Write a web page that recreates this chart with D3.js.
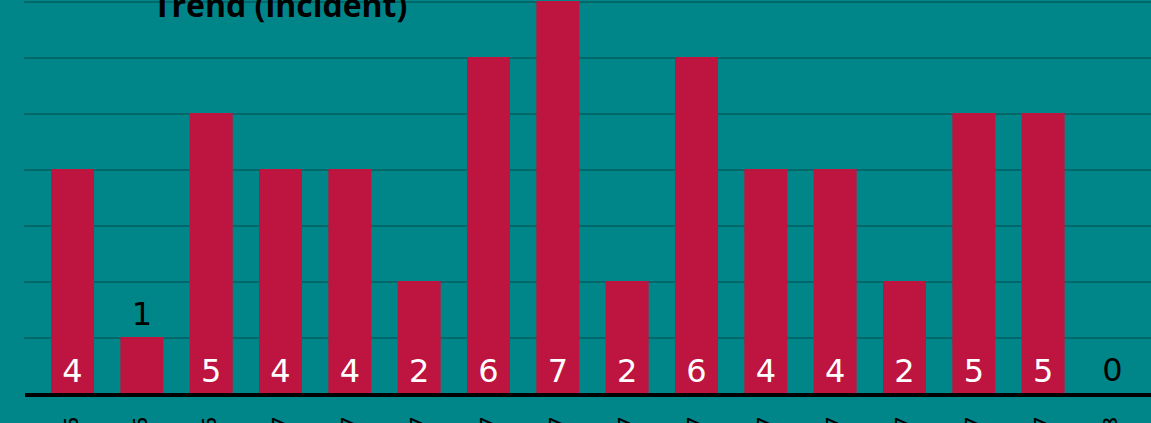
<!DOCTYPE html>
<html>
<head>
<meta charset="utf-8">
<script src="https://cdn.jsdelivr.net/npm/d3@7"></script>
<style>
  html, body { margin: 0; padding: 0; background: #008689; overflow: hidden; }
  svg { display: block; }
</style>
</head>
<body>
<svg id="chart" width="1151" height="423"></svg>
<script>
const categories = ["Oct 2016","Nov 2016","Dec 2016","Jan 2017","Feb 2017","Mar 2017","Apr 2017","May 2017","Jun 2017","Jul 2017","Aug 2017","Sep 2017","Oct 2017","Nov 2017","Dec 2017","Jan 2018"];
const incidents = [4, 1, 5, 4, 4, 2, 6, 7, 2, 6, 4, 4, 2, 5, 5, 0];
const gridValues = [1, 2, 3, 4, 5, 6, 7];
const titleText = "Trend (incident)";

const W = 1151, H = 423;
const svg = d3.select("#chart");

svg.append("rect").attr("width", W).attr("height", H).attr("fill", "#008689");

const x = d3.scaleBand().domain(categories).range([24, 1161]).paddingInner(0.38).paddingOuter(0.39);
const y = d3.scaleLinear().domain([0, 7]).range([393, 1]);

// gridlines
svg.append("g").selectAll("line").data(gridValues).join("line")
  .attr("x1", 24).attr("x2", W)
  .attr("y1", d => y(d) + 1).attr("y2", d => y(d) + 1)
  .attr("stroke", "#04686b").attr("stroke-width", 2);

// bars
svg.append("g").selectAll("rect").data(incidents).join("rect")
  .attr("x", (d, i) => x(categories[i]))
  .attr("width", x.bandwidth())
  .attr("y", d => y(d))
  .attr("height", d => y(0) - y(d))
  .attr("fill", "#bd1540");

// value labels
svg.append("g").selectAll("text").data(incidents).join("text")
  .attr("x", (d, i) => x(categories[i]) + x.bandwidth() / 2)
  .attr("y", d => d >= 2 ? y(0) - 11 : y(d) - 12)
  .attr("text-anchor", "middle")
  .attr("font-family", "'DejaVu Sans', sans-serif")
  .attr("font-size", 32)
  .attr("fill", d => d >= 2 ? "#ffffff" : "#000000")
  .text(d => d);

// x axis baseline
svg.append("line")
  .attr("x1", 25).attr("x2", W)
  .attr("y1", y(0) + 2).attr("y2", y(0) + 2)
  .attr("stroke", "#000").attr("stroke-width", 4);

// tick labels (rotated)
svg.append("g").selectAll("text").data(categories).join("text")
  .attr("transform", d => `translate(${x(d) + x.bandwidth() / 2},417) rotate(-90)`)
  .attr("text-anchor", "end")
  .attr("dy", "0.25em")
  .attr("font-family", "'Open Sans', sans-serif")
  .attr("font-weight", 600)
  .attr("font-size", 20)
  .attr("fill", "#000")
  .text(d => d);

// title
svg.append("text")
  .attr("x", 153).attr("y", 17)
  .attr("font-family", "'Open Sans', sans-serif")
  .attr("font-weight", 700)
  .attr("font-size", 32)
  .attr("fill", "#000")
  .text(titleText);
</script>
</body>
</html>
